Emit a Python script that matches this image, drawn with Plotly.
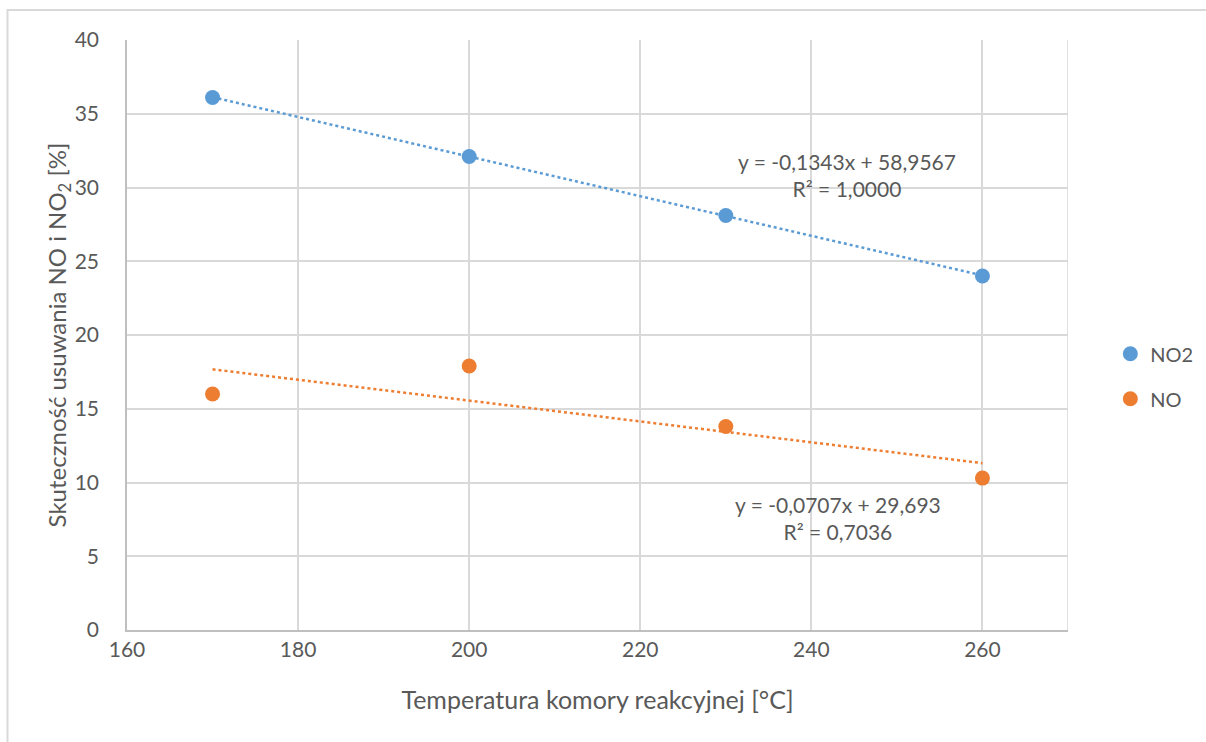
import plotly.graph_objects as go

# Reaction chamber temperature [°C]
temperature = [170, 200, 230, 260]
# Removal efficiency [%]
no2_eff = [36.1, 32.1, 28.1, 24.0]
no_eff = [16.0, 17.9, 13.8, 10.3]

# Linear trend coefficients (slope, intercept) and R²
no2_fit = (-0.1343, 58.9567, 1.0000)
no_fit = (-0.0707, 29.693, 0.7036)

x_ticks = [160, 180, 200, 220, 240, 260]
y_ticks = [0, 5, 10, 15, 20, 25, 30, 35, 40]

BLUE = "#5B9BD5"
ORANGE = "#ED7D31"
TXT = "#595959"
FONT = "Lato, 'Open Sans', sans-serif"


def trend(fit, xs):
    a, b, _ = fit
    return [a * x + b for x in xs]


def pl(v, d):
    return f"{v:.{d}f}".replace(".", ",")


x_line = [temperature[0], temperature[-1]]

fig = go.Figure()
fig.add_trace(go.Scatter(
    x=x_line, y=trend(no2_fit, x_line), mode="lines",
    line=dict(color=BLUE, width=2.5, dash="dot"), showlegend=False, hoverinfo="skip"))
fig.add_trace(go.Scatter(
    x=x_line, y=trend(no_fit, x_line), mode="lines",
    line=dict(color=ORANGE, width=2.5, dash="dot"), showlegend=False, hoverinfo="skip"))
fig.add_trace(go.Scatter(
    x=temperature, y=no2_eff, mode="markers", name="NO2", legendgroup="a",
    marker=dict(color=BLUE, size=15)))
fig.add_trace(go.Scatter(
    x=temperature, y=no_eff, mode="markers", name="NO", legendgroup="b",
    marker=dict(color=ORANGE, size=15)))

fig.add_annotation(
    x=244.2, y=32.75, xref="x", yref="y", showarrow=False, align="center",
    text=f"y = {pl(no2_fit[0], 4)}x + {pl(no2_fit[1], 4)}<br>R² = {pl(no2_fit[2], 4)}",
    font=dict(family=FONT, size=21, color=TXT), xanchor="center", yanchor="top")
fig.add_annotation(
    x=243.1, y=9.5, xref="x", yref="y", showarrow=False, align="center",
    text=f"y = {pl(no_fit[0], 4)}x + {pl(no_fit[1], 3)}<br>R² = {pl(no_fit[2], 4)}",
    font=dict(family=FONT, size=21, color=TXT), xanchor="center", yanchor="top")

# right edge gridline of the plot area
fig.add_shape(type="line", xref="x", yref="y", x0=270, x1=270, y0=0, y1=40,
              line=dict(color="#d9d9d9", width=1.5), layer="below")
# chart-area border
fig.add_shape(type="rect", xref="paper", yref="paper",
              x0=-0.127, x1=1.2, y0=-0.25, y1=1.0508,
              line=dict(color="#d9d9d9", width=2), layer="below")

fig.update_xaxes(
    range=[160, 270], tickvals=x_ticks, showgrid=True, gridcolor="#d9d9d9", gridwidth=1.5,
    showline=True, linecolor="#bfbfbf", linewidth=1.5, zeroline=False,
    tickfont=dict(family=FONT, size=21, color=TXT), ticks="", ticklabelstandoff=0,
    title=dict(text="Temperatura komory reakcyjnej [°C]",
               font=dict(family=FONT, size=25, color=TXT), standoff=32))
fig.update_yaxes(
    range=[0, 40], tickvals=y_ticks, showgrid=True, gridcolor="#d9d9d9", gridwidth=1.5,
    showline=True, linecolor="#bfbfbf", linewidth=1.5, zeroline=False,
    tickfont=dict(family=FONT, size=21, color=TXT), ticks="", ticklabelstandoff=22,
    title=dict(text="Skuteczność usuwania NO i NO<sub>2</sub> [%]",
               font=dict(family=FONT, size=24, color=TXT), standoff=0))

fig.update_layout(
    width=1206, height=742, autosize=False,
    margin=dict(l=127, r=138, t=40, b=112, autoexpand=False),
    paper_bgcolor="white", plot_bgcolor="white",
    font=dict(family=FONT, color=TXT),
    showlegend=True,
    legend=dict(x=1.045, y=0.43, xanchor="left", yanchor="middle",
                font=dict(family=FONT, size=20, color=TXT),
                traceorder="grouped", tracegroupgap=16, itemwidth=30,
                bgcolor="rgba(0,0,0,0)"),
)

fig.write_html("out.html")
